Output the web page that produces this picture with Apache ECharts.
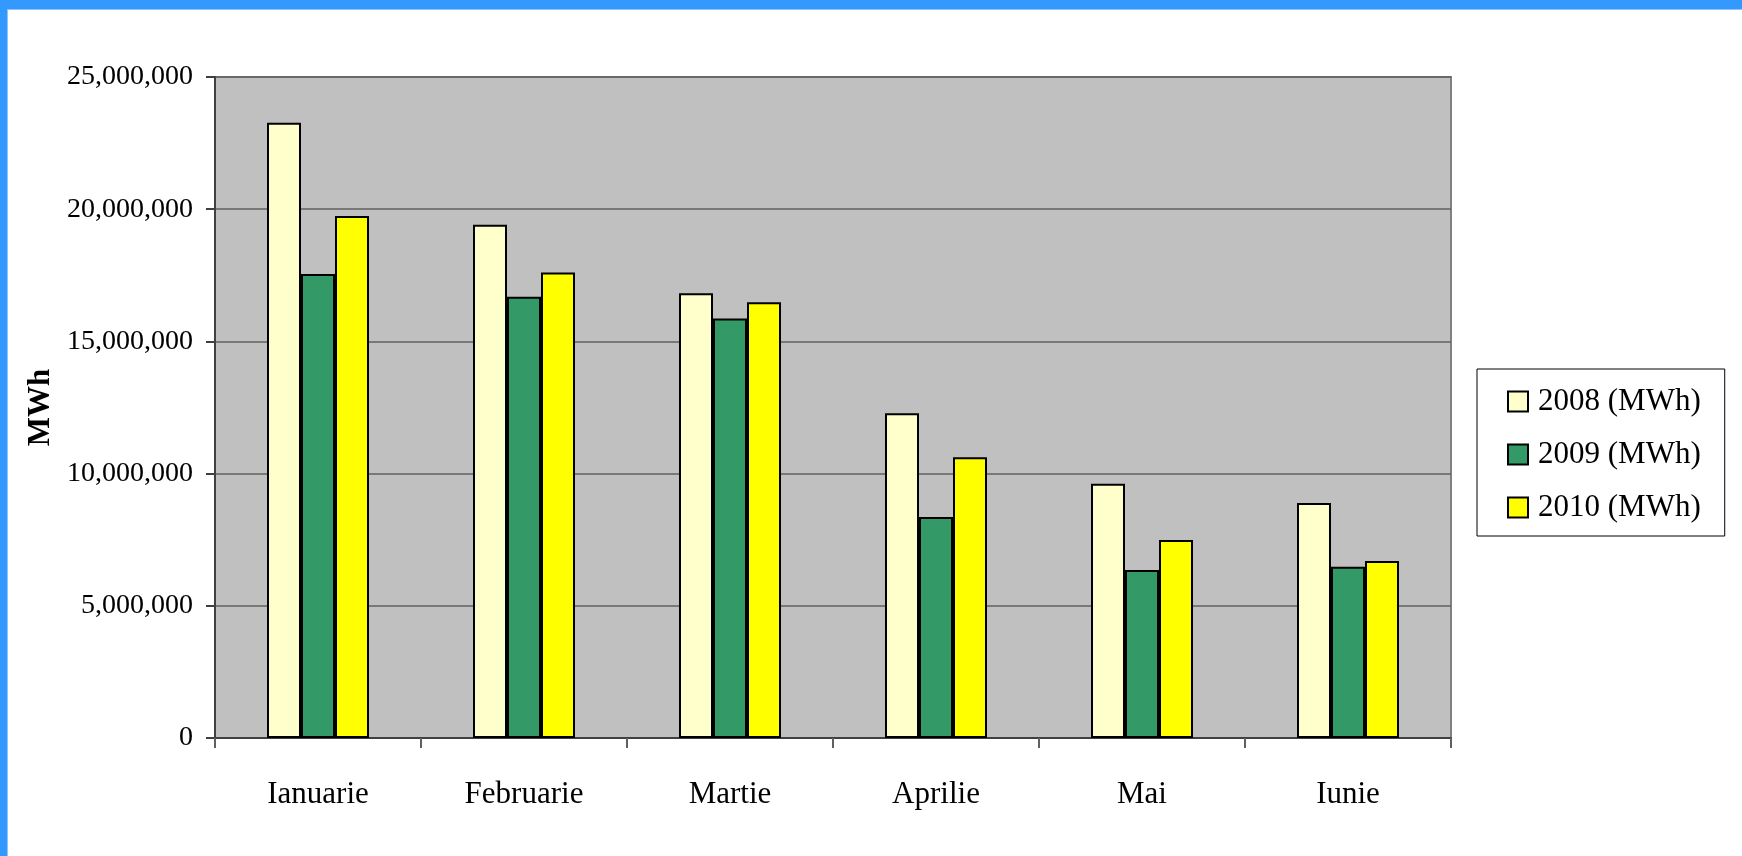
<!DOCTYPE html>
<html>
<head>
<meta charset="utf-8">
<title>MWh 2008-2010</title>
<script src="https://cdn.jsdelivr.net/npm/echarts@6/dist/echarts.min.js"></script>
<style>
  html, body { margin: 0; padding: 0; background: #fff; }
  #chart1 { width: 1742px; height: 856px; }
</style>
</head>
<body>
<div id="chart1"></div>
<script>
// luni
var categories = ["Ianuarie", "Februarie", "Martie", "Aprilie", "Mai", "Iunie"]
var seriesNames = ["2008 (MWh)", "2009 (MWh)", "2010 (MWh)"]
// valori (MWh)
var data2008 = [23270000, 19410000, 16820000, 12280000, 9620000, 8890000]
var data2009 = [17550000, 16690000, 15870000, 8360000, 6350000, 6480000]
var data2010 = [19740000, 17610000, 16480000, 10620000, 7490000, 6690000]
var yTicks = [0, 5000000, 10000000, 15000000, 20000000, 25000000]

var colors = ["#FFFFCC", "#339966", "#FFFF00"]
var serif = "'Liberation Serif', 'Times New Roman', serif"

var chart = echarts.init(document.getElementById("chart1"))

function makeBar(name, values, color) {
  return {
    name: name,
    type: "bar",
    data: values,
    barWidth: 34,
    barGap: "0%",
    itemStyle: {
      color: color,
      borderColor: "#000",
      borderWidth: 2,
    },
  }
}

chart.setOption({
  animation: false,
  backgroundColor: "#fff",
  textStyle: { fontFamily: serif },
  graphic: [
    // rama albastra sus si stanga
    { type: "rect", shape: { x: 0, y: 0, width: 1742, height: 9 }, style: { fill: "#3399FF" }, z: 100 },
    { type: "rect", shape: { x: 0, y: 9, width: 1742, height: 1 }, style: { fill: "#8CC6FF" }, z: 100 },
    { type: "rect", shape: { x: 0, y: 0, width: 7, height: 856 }, style: { fill: "#3399FF" }, z: 100 },
    { type: "rect", shape: { x: 7, y: 9, width: 1, height: 847 }, style: { fill: "#8CC6FF" }, z: 100 },
  ],
  grid: {
    left: 215,
    top: 77,
    width: 1236,
    height: 661,
    show: true,
    backgroundColor: "#C0C0C0",
    borderColor: "#808080",
    borderWidth: 2,
  },
  legend: {
    data: seriesNames,
    orient: "vertical",
    left: 1477,
    top: 369,
    width: 254,
    padding: [17, 24, 13, 30],
    itemGap: 22,
    itemWidth: 20,
    itemHeight: 20,
    icon: "rect",
    borderColor: "#000",
    borderWidth: 1,
    backgroundColor: "#fff",
    textStyle: {
      fontFamily: serif,
      fontSize: 31,
      color: "#000",
      padding: [0, 0, 0, 5],
    },
  },
  xAxis: {
    type: "category",
    data: categories,
    axisLine: { lineStyle: { color: "#404040", width: 2 } },
    axisTick: { show: true, length: 10, alignWithLabel: false, lineStyle: { color: "#606060", width: 2 } },
    axisLabel: { fontFamily: serif, fontSize: 31, color: "#000", margin: 41 },
  },
  yAxis: {
    type: "value",
    min: yTicks[0],
    max: yTicks[yTicks.length - 1],
    interval: yTicks[1] - yTicks[0],
    name: "MWh",
    nameLocation: "middle",
    nameGap: 157,
    nameRotate: 90,
    nameTextStyle: { fontFamily: serif, fontSize: 31, fontWeight: "bold", color: "#000" },
    axisLine: { show: true, lineStyle: { color: "#404040", width: 2 } },
    axisTick: { show: true, length: 9, lineStyle: { color: "#404040", width: 2 } },
    splitLine: { show: true, lineStyle: { color: "#606060", width: 1.5 } },
    axisLabel: {
      fontFamily: serif,
      fontSize: 28,
      color: "#000",
      margin: 22,
      formatter: function (v) {
        return v.toLocaleString("en-US")
      },
    },
  },
  series: [
    makeBar(seriesNames[0], data2008, colors[0]),
    makeBar(seriesNames[1], data2009, colors[1]),
    makeBar(seriesNames[2], data2010, colors[2]),
  ],
})
</script>
</body>
</html>
